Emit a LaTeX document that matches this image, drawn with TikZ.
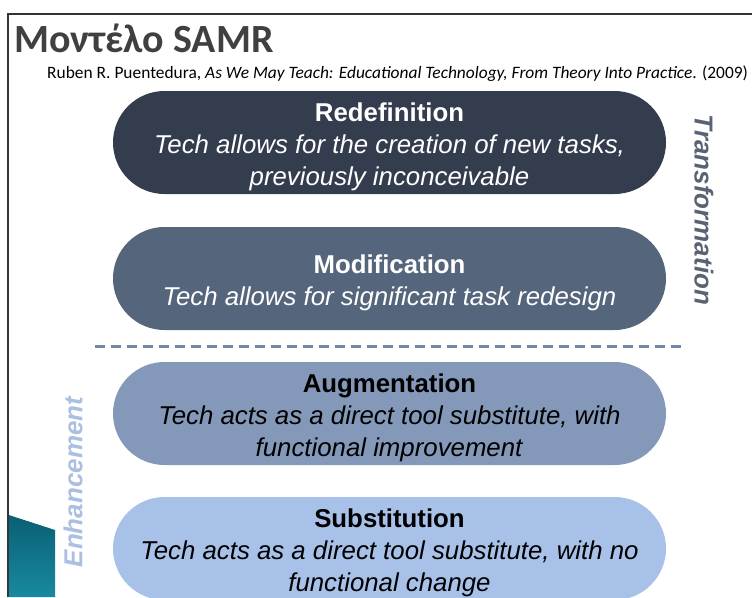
\documentclass[tikz,border=0pt]{standalone}
\usepackage{fontspec}
\setmainfont{Liberation Sans}
\newfontfamily\titlefont{Carlito}
\usepackage{tikz}
\usetikzlibrary{arrows.meta}
\usepackage{xcolor}
\definecolor{redefcol}{HTML}{343D4D}
\definecolor{modifcol}{HTML}{55657C}
\definecolor{augmcol}{HTML}{8499B9}
\definecolor{substcol}{HTML}{A7C1E9}
\definecolor{titlegrey}{HTML}{404040}
\definecolor{transcol}{HTML}{5A6373}
\definecolor{enhcol}{HTML}{AABFE2}
\definecolor{dashcol}{HTML}{7586A0}
\definecolor{tealdark}{HTML}{0A5F73}
\definecolor{teallight}{HTML}{188AA0}
\tikzset{
  stage/.style={rounded corners=51.5pt, minimum width=553pt, minimum height=103pt,
    align=center, inner sep=0pt, font=\fontsize{25.8}{32}\selectfont},
  sidelabel/.style={font=\fontsize{26}{30}\selectfont\bfseries\itshape}
}
\newcommand{\stagehead}[1]{\rule{0pt}{27pt}{\bfseries #1}}

\begin{document}
\begin{tikzpicture}[x=1pt,y=1pt]
  \useasboundingbox (0,0) rectangle (752,-597);
  % frame and corner
  \draw[titlegrey!80!black, line width=1.5pt] (8,-597) -- (8,-14) -- (752,-14);
  \shade[top color=tealdark, bottom color=teallight] (8.8,-515) -- (55,-530) -- (55,-597) -- (8.8,-597) -- cycle;
  % title
  \node[anchor=base west, inner sep=0pt, text=titlegrey, font=\titlefont\bfseries\fontsize{40}{40}\selectfont] (title) at (14,-52) {Μοντέλο SAMR};
  \node[anchor=base west, inner sep=0pt, font=\titlefont\fontsize{17.4}{18}\selectfont] (cite) at (47,-78)
    {Ruben R. Puentedura, \textit{As We May Teach: Educational Technology, From Theory Into Practice}. (2009)};
  % stages
  \node[stage, fill=redefcol, text=white] (redef) at (389.5,-142.5)
    {\stagehead{Redefinition}\\ \textit{Tech allows for the creation of new tasks,}\\ \textit{previously inconceivable}};
  \node[stage, fill=modifcol, text=white] (modif) at (389.5,-278.5)
    {\stagehead{Modification}\\ \textit{Tech allows for significant task redesign}};
  \node[stage, fill=augmcol, text=black] (augm) at (389.5,-413.5)
    {\stagehead{Augmentation}\\ \textit{Tech acts as a direct tool substitute, with}\\ \textit{functional improvement}};
  \node[stage, fill=substcol, text=black] (subst) at (389.5,-548.5)
    {\stagehead{Substitution}\\ \textit{Tech acts as a direct tool substitute, with no}\\ \textit{functional change}};
  % divider
  \coordinate (divl) at (95,-346);
  \coordinate (divr) at (684,-346);
  \draw[dashcol, line width=3pt, dash pattern=on 10pt off 6pt] (divl) -- (divr);
  % side labels
  \node[sidelabel, text=transcol, rotate=-90] (transf) at (704,-210) {Transformation};
  \node[sidelabel, text=enhcol, rotate=90] (enh) at (73,-482) {Enhancement};
\end{tikzpicture}
\end{document}
